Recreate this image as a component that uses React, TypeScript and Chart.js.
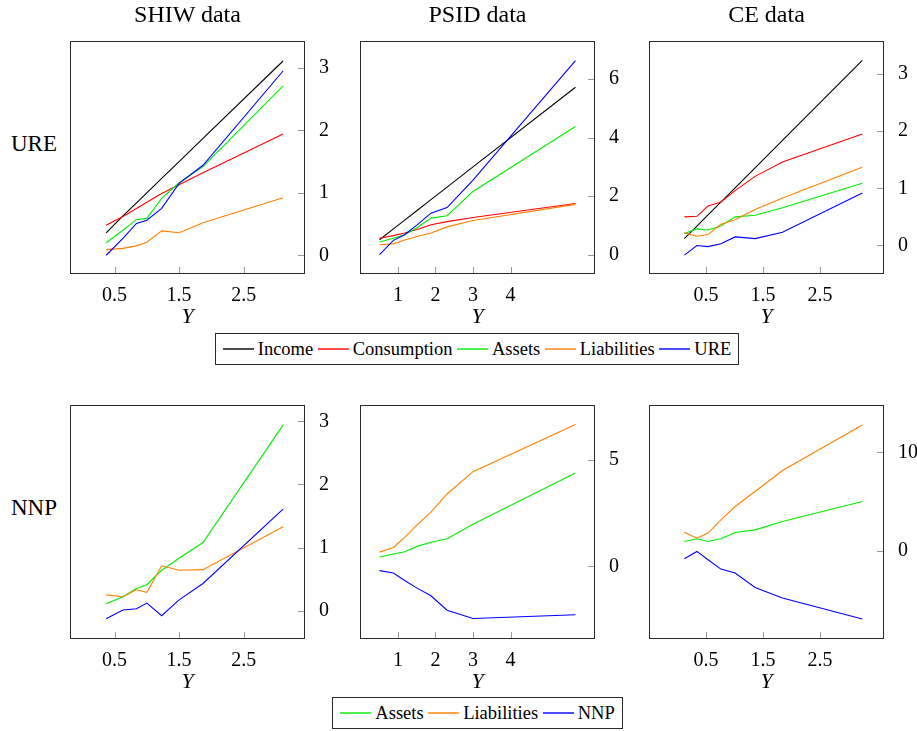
import React, { useEffect, useRef } from 'react';
import { Chart, registerables } from 'chart.js';

Chart.register(...registerables);

const FONT = '"Liberation Serif", "Times New Roman", serif';

const COL_INCOME = '#000000';
const COL_CONS = '#ff0000';
const COL_ASSETS = '#00ee00';
const COL_LIAB = '#ff8000';
const COL_URE = '#0000ff';

// ---------- SHIW ----------
const shiwX = [0.37, 0.63, 0.84, 1.0, 1.23, 1.5, 1.87, 3.11];
const shiwIncome = [0.36, 0.63, 0.84, 1.0, 1.23, 1.5, 1.87, 3.11];
const shiwConsumption = [0.48, 0.62, 0.75, 0.85, 0.99, 1.13, 1.32, 1.94];
const shiwAssets = [0.2, 0.4, 0.57, 0.59, 0.91, 1.16, 1.42, 2.71];
const shiwLiabilities = [0.09, 0.11, 0.15, 0.21, 0.39, 0.36, 0.52, 0.92];
const shiwURE = [0.0, 0.27, 0.51, 0.56, 0.75, 1.15, 1.44, 2.95];
const shiwAssetsN = [0.11, 0.22, 0.35, 0.41, 0.64, 0.83, 1.08, 2.94];
const shiwLiabilitiesN = [0.25, 0.22, 0.33, 0.29, 0.71, 0.64, 0.65, 1.33];
const shiwNNP = [-0.13, 0.01, 0.03, 0.12, -0.08, 0.17, 0.43, 1.61];

// ---------- PSID ----------
const psidX = [0.51, 0.88, 1.18, 1.51, 1.88, 2.31, 3.0, 5.73];
const psidIncome = [0.51, 0.88, 1.18, 1.51, 1.88, 2.31, 3.0, 5.72];
const psidConsumption = [0.56, 0.65, 0.74, 0.86, 1.02, 1.13, 1.27, 1.75];
const psidAssets = [0.43, 0.56, 0.68, 0.92, 1.25, 1.33, 2.16, 4.38];
const psidLiabilities = [0.34, 0.37, 0.5, 0.62, 0.74, 0.95, 1.17, 1.72];
const psidURE = [0.0, 0.49, 0.68, 1.02, 1.42, 1.61, 2.55, 6.63];
const psidAssetsN = [0.44, 0.58, 0.69, 0.94, 1.13, 1.3, 1.98, 4.39];
const psidLiabilitiesN = [0.67, 0.89, 1.36, 1.95, 2.55, 3.4, 4.45, 6.67];
const psidNNP = [-0.2, -0.31, -0.66, -1.02, -1.38, -2.06, -2.45, -2.27];

// ---------- CE ----------
const ceX = [0.12, 0.34, 0.535, 0.76, 1.01, 1.36, 1.84, 3.24];
const ceIncome = [0.12, 0.34, 0.535, 0.76, 1.01, 1.36, 1.84, 3.24];
const ceConsumption = [0.5, 0.51, 0.69, 0.76, 0.96, 1.21, 1.46, 1.95];
const ceAssets = [0.21, 0.29, 0.27, 0.34, 0.5, 0.53, 0.66, 1.09];
const ceLiabilities = [0.22, 0.16, 0.19, 0.37, 0.45, 0.63, 0.83, 1.37];
const ceURE = [-0.17, 0.0, -0.02, 0.03, 0.15, 0.12, 0.23, 0.92];
const ceAssetsN = [0.98, 1.25, 0.98, 1.25, 1.89, 2.15, 3.0, 5.02];
const ceLiabilitiesN = [1.92, 1.31, 1.82, 3.16, 4.51, 6.03, 8.15, 12.76];
const ceNNP = [-0.77, -0.03, -0.88, -1.82, -2.22, -3.67, -4.75, -6.87];

// ---------- ticks ----------
const shiwXTicks = [0.5, 1.5, 2.5];
const psidXTicks = [1, 2, 3, 4];
const ceXTicks = [0.5, 1.5, 2.5];
const ureShiwYTicks = [0, 1, 2, 3];
const urePsidYTicks = [0, 2, 4, 6];
const ureCeYTicks = [0, 1, 2, 3];
const nnpShiwYTicks = [0, 1, 2, 3];
const nnpPsidYTicks = [0, 5];
const nnpCeYTicks = [0, 10];

const columnTitles = ['SHIW data', 'PSID data', 'CE data'];
const rowTitles = ['URE', 'NNP'];
const xAxisTitle = 'Y';

const topLegend = [
  { label: 'Income', color: COL_INCOME },
  { label: 'Consumption', color: COL_CONS },
  { label: 'Assets', color: COL_ASSETS },
  { label: 'Liabilities', color: COL_LIAB },
  { label: 'URE', color: COL_URE },
];
const bottomLegend = [
  { label: 'Assets', color: COL_ASSETS },
  { label: 'Liabilities', color: COL_LIAB },
  { label: 'NNP', color: COL_URE },
];

// ---------- layout ----------
const COLS = [
  { l: 70, r: 305 },
  { l: 360, r: 595 },
  { l: 649, r: 884 },
];
const ROWS = [
  { t: 41, b: 274 },
  { t: 405, b: 639 },
];
const PL = 10;
const PT = 24;
const RW = 50;
const BH = 40;

type Series = { label: string; color: string; values: number[] };

type PanelProps = {
  col: number;
  row: number;
  xs: number[];
  series: Series[];
  xMin: number;
  xMax: number;
  yMin: number;
  yMax: number;
  xTicks: number[];
  yTicks: number[];
};

const framePlugin = {
  id: 'frameTicks',
  afterDraw(chart: any) {
    const { ctx, chartArea: a, scales } = chart;
    const xs = scales.x;
    const ys = scales.y;
    ctx.save();
    ctx.strokeStyle = '#9a9a9a';
    ctx.lineWidth = 1;
    xs.ticks.forEach((t: any) => {
      const px = Math.round(xs.getPixelForValue(t.value)) + 0.5;
      ctx.beginPath();
      ctx.moveTo(px, a.bottom);
      ctx.lineTo(px, a.bottom - 7);
      ctx.stroke();
    });
    ys.ticks.forEach((t: any) => {
      const py = Math.round(ys.getPixelForValue(t.value)) + 0.5;
      ctx.beginPath();
      ctx.moveTo(a.right, py);
      ctx.lineTo(a.right - 7, py);
      ctx.stroke();
    });
    ctx.strokeStyle = '#2a2a2a';
    ctx.strokeRect(a.left + 0.5, a.top + 0.5, a.right - a.left - 1, a.bottom - a.top - 1);
    ctx.restore();
  },
};

function Panel(p: PanelProps) {
  const ref = useRef<HTMLCanvasElement | null>(null);
  const c = COLS[p.col];
  const r = ROWS[p.row];
  const w = c.r - c.l + PL + RW;
  const h = r.b - r.t + PT + BH;

  useEffect(() => {
    if (!ref.current) return;
    const n = p.series.length;
    const chart = new Chart(ref.current, {
      type: 'line',
      data: {
        datasets: p.series.map((s, i) => ({
          label: s.label,
          data: p.xs.map((x, k) => ({ x, y: s.values[k] })),
          borderColor: s.color,
          backgroundColor: s.color,
          borderWidth: 1.1,
          pointRadius: 0,
          tension: 0,
          fill: false,
          order: n - i,
        })),
      },
      options: {
        responsive: false,
        maintainAspectRatio: false,
        animation: false,
        events: [],
        layout: { padding: { left: PL, top: PT, right: 0, bottom: 0 } },
        plugins: { legend: { display: false }, tooltip: { enabled: false } },
        scales: {
          x: {
            type: 'linear',
            position: 'bottom',
            min: p.xMin,
            max: p.xMax,
            grid: { display: false },
            border: { display: false },
            afterBuildTicks: (s: any) => {
              s.ticks = p.xTicks.map((v) => ({ value: v }));
            },
            afterFit: (s: any) => {
              s.height = BH;
            },
            ticks: {
              autoSkip: false,
              maxRotation: 0,
              padding: 2,
              color: '#000',
              font: { family: FONT, size: 20 },
              callback: (v: any) => String(v),
            },
          },
          y: {
            type: 'linear',
            position: 'right',
            min: p.yMin,
            max: p.yMax,
            grid: { display: false },
            border: { display: false },
            afterBuildTicks: (s: any) => {
              s.ticks = p.yTicks.map((v) => ({ value: v }));
            },
            afterFit: (s: any) => {
              s.width = RW;
            },
            ticks: {
              autoSkip: false,
              padding: 6,
              color: '#000',
              font: { family: FONT, size: 20 },
              callback: (v: any) => String(v),
            },
          },
        },
      } as any,
      plugins: [framePlugin],
    });
    return () => chart.destroy();
  }, []);

  return (
    <canvas
      ref={ref}
      width={w}
      height={h}
      style={{ position: 'absolute', left: c.l - PL, top: r.t - PT, width: w, height: h, display: 'block' }}
    />
  );
}

function Label(props: { text: string; cx: number; cy: number; size: number; italic?: boolean }) {
  return (
    <div
      style={{
        position: 'absolute',
        left: props.cx,
        top: props.cy,
        transform: 'translate(-50%, -50%)',
        fontFamily: FONT,
        fontSize: props.size,
        fontStyle: props.italic ? 'italic' : 'normal',
        lineHeight: 1,
        whiteSpace: 'nowrap',
        color: '#000',
      }}
    >
      {props.text}
    </div>
  );
}

function Legend(props: { items: { label: string; color: string }[]; left: number; top: number; width: number; height: number }) {
  return (
    <div
      style={{
        position: 'absolute',
        left: props.left,
        top: props.top,
        width: props.width,
        height: props.height,
        boxSizing: 'border-box',
        border: '1px solid #2a2a2a',
        display: 'flex',
        alignItems: 'center',
        justifyContent: 'center',
        fontFamily: FONT,
        fontSize: 18.5,
        lineHeight: 1,
        whiteSpace: 'nowrap',
        background: '#fff',
      }}
    >
      {props.items.map((it, i) => (
        <div key={i} style={{ display: 'flex', alignItems: 'center', marginLeft: i === 0 ? 0 : 4.5 }}>
          <div style={{ width: 31, height: 1.5, backgroundColor: it.color, marginRight: 4, opacity: 0.7 }} />
          <span>{it.label}</span>
        </div>
      ))}
    </div>
  );
}

function ureSeries(inc: number[], con: number[], ast: number[], lia: number[], ure: number[]): Series[] {
  return [
    { label: 'Income', color: COL_INCOME, values: inc },
    { label: 'Consumption', color: COL_CONS, values: con },
    { label: 'Assets', color: COL_ASSETS, values: ast },
    { label: 'Liabilities', color: COL_LIAB, values: lia },
    { label: 'URE', color: COL_URE, values: ure },
  ];
}

function nnpSeries(ast: number[], lia: number[], nnp: number[]): Series[] {
  return [
    { label: 'Assets', color: COL_ASSETS, values: ast },
    { label: 'Liabilities', color: COL_LIAB, values: lia },
    { label: 'NNP', color: COL_URE, values: nnp },
  ];
}

export default function App() {
  const colCenters = COLS.map((c) => (c.l + c.r) / 2);
  return (
    <div style={{ position: 'absolute', left: 0, top: 0, width: 917, height: 731, background: '#fff', overflow: 'hidden' }}>
      <Panel col={0} row={0} xs={shiwX} series={ureSeries(shiwIncome, shiwConsumption, shiwAssets, shiwLiabilities, shiwURE)}
        xMin={-0.19} xMax={3.45} yMin={-0.3} yMax={3.43} xTicks={shiwXTicks} yTicks={ureShiwYTicks} />
      <Panel col={1} row={0} xs={psidX} series={ureSeries(psidIncome, psidConsumption, psidAssets, psidLiabilities, psidURE)}
        xMin={-0.01} xMax={6.25} yMin={-0.66} yMax={7.3} xTicks={psidXTicks} yTicks={urePsidYTicks} />
      <Panel col={2} row={0} xs={ceX} series={ureSeries(ceIncome, ceConsumption, ceAssets, ceLiabilities, ceURE)}
        xMin={-0.5} xMax={3.62} yMin={-0.5} yMax={3.58} xTicks={ceXTicks} yTicks={ureCeYTicks} />
      <Panel col={0} row={1} xs={shiwX} series={nnpSeries(shiwAssetsN, shiwLiabilitiesN, shiwNNP)}
        xMin={-0.19} xMax={3.45} yMin={-0.45} yMax={3.26} xTicks={shiwXTicks} yTicks={nnpShiwYTicks} />
      <Panel col={1} row={1} xs={psidX} series={nnpSeries(psidAssetsN, psidLiabilitiesN, psidNNP)}
        xMin={-0.01} xMax={6.25} yMin={-3.41} yMax={7.58} xTicks={psidXTicks} yTicks={nnpPsidYTicks} />
      <Panel col={2} row={1} xs={ceX} series={nnpSeries(ceAssetsN, ceLiabilitiesN, ceNNP)}
        xMin={-0.5} xMax={3.62} yMin={-8.89} yMax={14.78} xTicks={ceXTicks} yTicks={nnpCeYTicks} />

      {columnTitles.map((t, i) => (
        <Label key={t} text={t} cx={colCenters[i]} cy={13.5} size={24} />
      ))}
      <Label text={rowTitles[0]} cx={34} cy={143} size={23} />
      <Label text={rowTitles[1]} cx={34} cy={507} size={23} />
      {colCenters.map((cx, i) => (
        <Label key={'yt' + i} text={xAxisTitle} cx={cx} cy={316} size={22} italic />
      ))}
      {colCenters.map((cx, i) => (
        <Label key={'yb' + i} text={xAxisTitle} cx={cx} cy={681} size={22} italic />
      ))}
      <Legend items={topLegend} left={215} top={333} width={524} height={32} />
      <Legend items={bottomLegend} left={332} top={697} width={291} height={32} />
    </div>
  );
}
